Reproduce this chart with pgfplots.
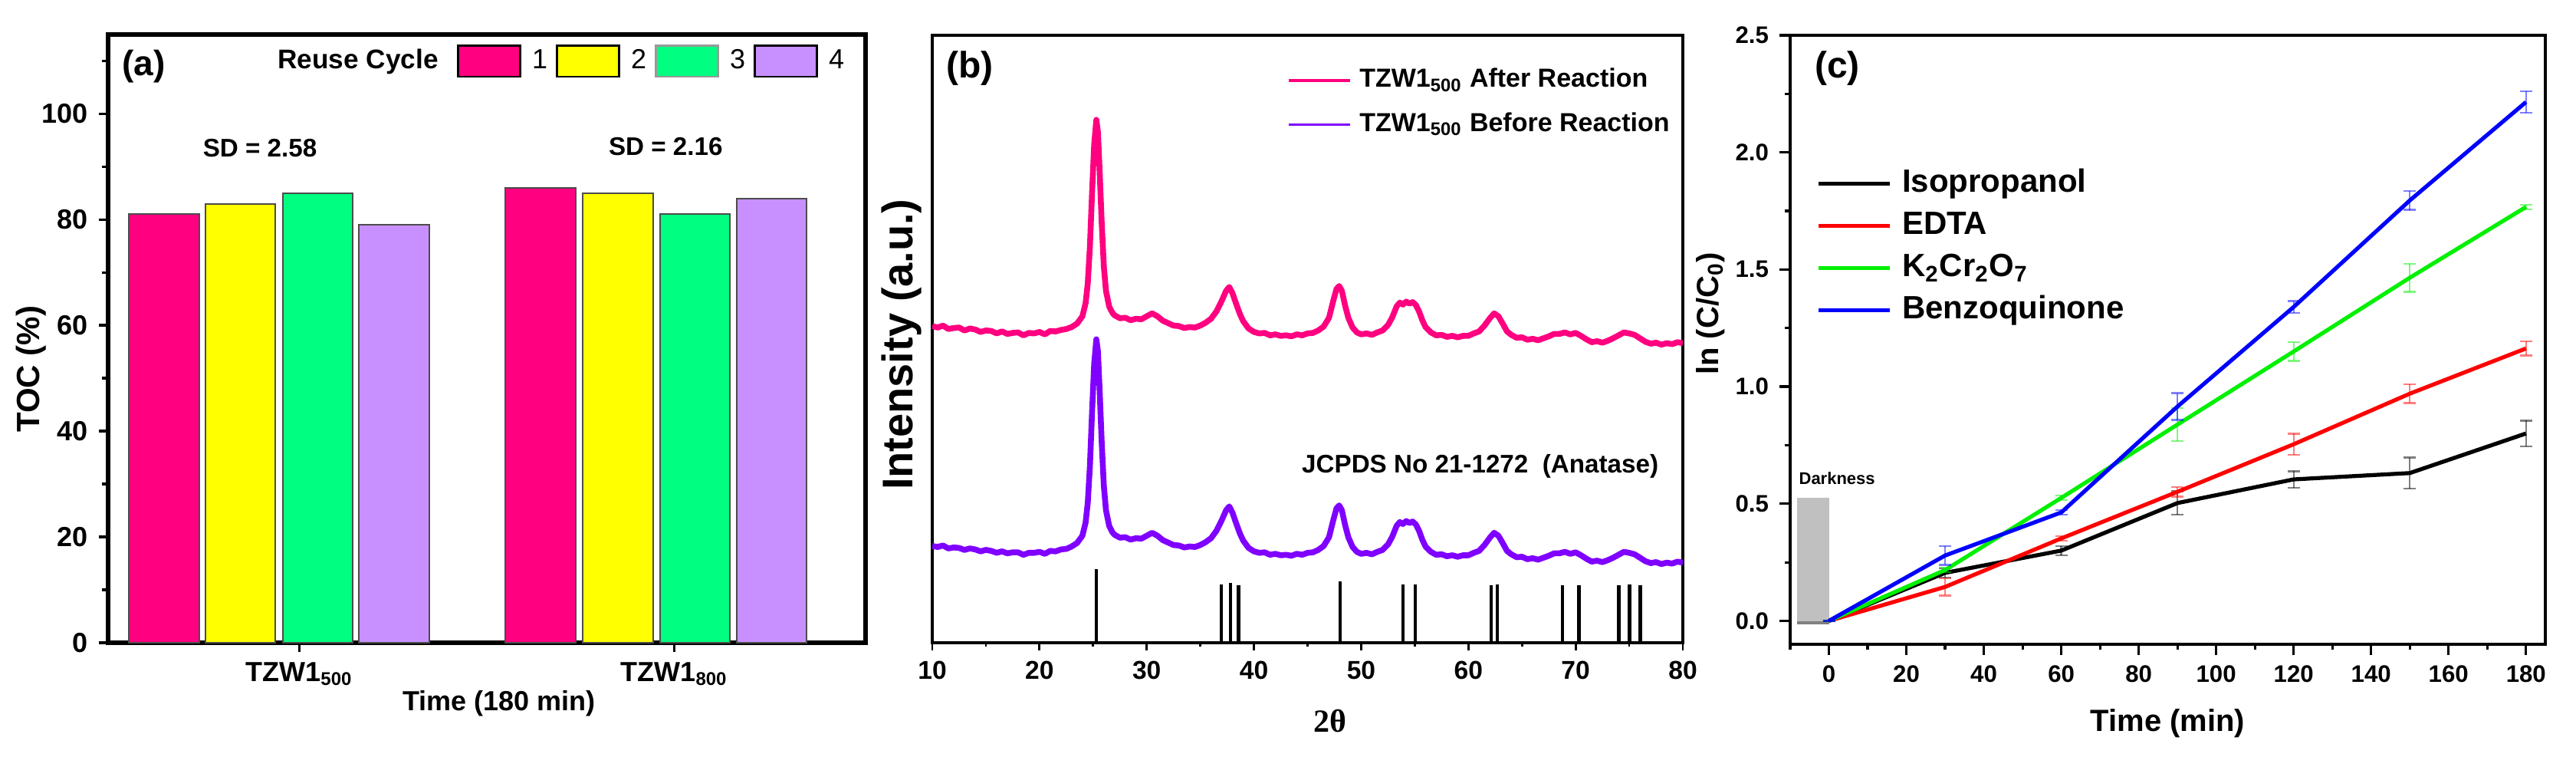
\documentclass[border=0pt]{standalone}
\usepackage{fontspec}
\setmainfont{Liberation Sans}
\newfontfamily\serifb{Liberation Serif}
\usepackage{pgfplots}
\pgfplotsset{compat=1.18}

\definecolor{cyc1}{HTML}{FF0080}
\definecolor{cyc2}{HTML}{FFFF00}
\definecolor{cyc3}{HTML}{00FF80}
\definecolor{cyc4}{HTML}{C890FF}
\definecolor{afterc}{HTML}{FF0080}
\definecolor{beforec}{HTML}{8000FF}
\definecolor{dark}{HTML}{C0C0C0}
\definecolor{lred}{HTML}{FF0000}
\definecolor{lgreen}{HTML}{00F000}
\definecolor{lblue}{HTML}{0000FF}

\newcommand\fs[1]{\fontsize{#1}{#1}\selectfont}

% XRD patterns; y in arbitrary units
\pgfplotstableread{
x y
10.0 64.8
10.5 64.5
11.0 64.9
11.5 64.2
12.0 64.4
12.5 64.5
13.0 63.9
13.5 64.3
14.0 64.1
14.5 63.6
15.0 63.9
15.5 63.8
16.0 63.3
16.5 63.7
17.0 63.2
17.5 63.4
18.0 63.5
18.5 62.9
19.0 63.4
19.5 63.3
20.0 63.6
20.5 63.1
21.0 63.8
21.5 63.7
22.0 64.0
22.5 64.2
23.0 64.6
23.5 65.3
24.0 66.8
24.3 69.5
24.5 73.5
24.7 81.0
24.9 92.0
25.1 102.0
25.3 107.0
25.45 104.5
25.6 97.0
25.8 86.0
26.0 77.0
26.2 72.0
26.5 68.8
26.8 67.5
27.0 67.0
27.5 66.4
28.0 66.5
28.5 66.0
29.0 66.3
29.5 66.2
30.0 66.8
30.5 67.4
31.0 66.8
31.5 65.9
32.0 65.4
32.5 64.9
33.0 64.8
33.5 64.4
34.0 64.6
34.5 64.5
35.0 64.9
35.5 65.5
36.0 66.3
36.5 67.8
37.0 70.0
37.4 72.0
37.7 72.8
38.0 71.5
38.3 69.6
38.7 67.2
39.0 65.8
39.5 64.3
40.0 63.6
40.5 63.3
41.0 63.4
41.5 62.9
42.0 63.1
42.5 62.8
43.0 62.9
43.5 62.7
44.0 63.1
44.5 62.9
45.0 63.3
45.5 63.4
46.0 63.9
46.5 64.7
47.0 66.5
47.4 70.0
47.7 72.4
47.95 73.0
48.2 72.0
48.5 69.0
48.8 66.5
49.2 64.5
49.6 63.5
50.0 63.1
50.5 63.3
51.0 63.0
51.5 63.5
52.0 63.9
52.5 65.0
52.9 66.6
53.3 68.8
53.6 69.6
53.9 69.2
54.2 69.8
54.5 69.4
54.8 69.7
55.1 69.1
55.4 67.8
55.7 66.0
56.0 64.6
56.5 63.5
57.0 62.9
57.5 63.0
58.0 62.6
58.5 62.8
59.0 62.5
59.5 62.8
60.0 62.8
60.5 63.3
61.0 63.7
61.5 64.9
62.0 66.4
62.4 67.4
62.8 66.8
63.2 65.3
63.6 63.7
64.0 63.0
64.5 62.4
65.0 62.5
65.5 62.0
66.0 62.2
66.5 61.9
67.0 62.3
67.5 62.7
68.0 63.2
68.5 63.2
69.0 63.5
69.5 63.1
70.0 63.4
70.5 62.8
71.0 62.1
71.5 61.5
72.0 61.7
72.5 61.4
73.0 61.8
73.5 62.3
74.0 62.9
74.5 63.5
75.0 63.3
75.5 63.0
76.0 62.3
76.5 61.6
77.0 61.2
77.5 61.4
78.0 61.0
78.5 61.3
79.0 61.1
79.5 61.5
80.0 61.3
}\afterdata

\pgfplotstableread{
x y
10.0 19.8
10.5 19.6
11.0 19.9
11.5 19.3
12.0 19.5
12.5 19.4
13.0 19.0
13.5 19.3
14.0 19.1
14.5 18.7
15.0 19.0
15.5 18.8
16.0 18.4
16.5 18.7
17.0 18.3
17.5 18.5
18.0 18.5
18.5 18.0
19.0 18.4
19.5 18.4
20.0 18.6
20.5 18.2
21.0 18.8
21.5 18.7
22.0 19.1
22.5 19.2
23.0 19.7
23.5 20.4
24.0 21.9
24.3 24.6
24.5 28.6
24.7 36.1
24.9 47.1
25.1 57.1
25.3 62.1
25.45 59.6
25.6 52.1
25.8 41.1
26.0 32.1
26.2 27.1
26.5 23.9
26.8 22.6
27.0 22.1
27.5 21.5
28.0 21.6
28.5 21.1
29.0 21.4
29.5 21.3
30.0 21.9
30.5 22.5
31.0 21.9
31.5 21.0
32.0 20.5
32.5 20.0
33.0 19.9
33.5 19.5
34.0 19.7
34.5 19.6
35.0 20.0
35.5 20.6
36.0 21.4
36.5 22.9
37.0 25.1
37.4 27.1
37.7 27.9
38.0 26.6
38.3 24.7
38.7 22.3
39.0 20.9
39.5 19.4
40.0 18.7
40.5 18.4
41.0 18.5
41.5 18.0
42.0 18.2
42.5 17.9
43.0 18.0
43.5 17.8
44.0 18.2
44.5 18.0
45.0 18.4
45.5 18.5
46.0 19.0
46.5 19.8
47.0 21.6
47.4 25.1
47.7 27.5
47.95 28.1
48.2 27.1
48.5 24.1
48.8 21.6
49.2 19.6
49.6 18.6
50.0 18.2
50.5 18.4
51.0 18.1
51.5 18.6
52.0 19.0
52.5 20.1
52.9 21.7
53.3 23.9
53.6 24.7
53.9 24.3
54.2 24.9
54.5 24.5
54.8 24.8
55.1 24.2
55.4 22.9
55.7 21.1
56.0 19.7
56.5 18.6
57.0 18.0
57.5 18.1
58.0 17.7
58.5 17.9
59.0 17.6
59.5 17.9
60.0 17.9
60.5 18.4
61.0 18.8
61.5 20.0
62.0 21.5
62.4 22.5
62.8 21.9
63.2 20.4
63.6 18.8
64.0 18.1
64.5 17.5
65.0 17.6
65.5 17.1
66.0 17.3
66.5 17.0
67.0 17.4
67.5 17.8
68.0 18.3
68.5 18.3
69.0 18.6
69.5 18.2
70.0 18.5
70.5 17.9
71.0 17.2
71.5 16.6
72.0 16.8
72.5 16.5
73.0 16.9
73.5 17.4
74.0 18.0
74.5 18.6
75.0 18.4
75.5 18.1
76.0 17.4
76.5 16.7
77.0 16.3
77.5 16.5
78.0 16.1
78.5 16.4
79.0 16.2
79.5 16.6
80.0 16.4
}\beforedata

\begin{document}
\begin{tikzpicture}
\useasboundingbox (0,0) rectangle (840pt,249.75pt);

% ---------------- (a) TOC bars
\begin{axis}[
  at={(35.25pt,40.25pt)}, anchor=south west, scale only axis,
  width=247pt, height=198.25pt,
  xmin=0.49, xmax=2.51, ymin=0, ymax=115,
  axis line style={line width=1.3pt},
  tick align=outside, tick pos=left,
  major tick length=3pt, minor tick length=2pt,
  every tick/.style={black, line width=0.9pt},
  xtick={1,2}, xticklabels={TZW1\textsubscript{500},TZW1\textsubscript{800}},
  ytick={0,20,...,100}, minor ytick={10,30,...,110},
  tick label style={font=\fs{9}\bfseries},
  /pgf/number format/assume math mode=true,
  xlabel={Time (180 min)}, ylabel={TOC (\%)},
  xlabel style={font=\fs{9}\bfseries, at={(axis description cs:0.516,-0.1)}, anchor=center},
  ylabel style={font=\fs{10.5}\bfseries, at={(axis description cs:-0.102,0.45)}, anchor=center},
  legend columns=4,
  legend image code/.code={\draw[#1] (0pt,-5.1pt) rectangle (20.25pt,5.1pt);},
  legend style={draw=none, fill=none, inner sep=0pt,
    at={(rel axis cs:0.46,0.956)}, anchor=west, font=\fs{9},
    nodes={inner sep=0pt},
    /tikz/every odd column/.append style={column sep=3.6pt},
    /tikz/every even column/.append style={column sep=2.8pt}},
]
\addplot[ybar, bar width=0.187, bar shift=0pt, fill=cyc1, draw=black!70, line width=0.5pt, forget plot]
  coordinates {(0.639,81) (1.643,86)};
\addplot[ybar, bar width=0.187, bar shift=0pt, fill=cyc2, draw=black!70, line width=0.5pt, forget plot]
  coordinates {(0.843,83) (1.850,85)};
\addplot[ybar, bar width=0.187, bar shift=0pt, fill=cyc3, draw=black!70, line width=0.5pt, forget plot]
  coordinates {(1.049,85) (2.055,81)};
\addplot[ybar, bar width=0.187, bar shift=0pt, fill=cyc4, draw=black!70, line width=0.5pt, forget plot]
  coordinates {(1.253,79) (2.259,84)};
\addlegendimage{fill=cyc1, draw=black, line width=0.6pt}\addlegendentry{1}
\addlegendimage{fill=cyc2, draw=black, line width=0.6pt}\addlegendentry{2}
\addlegendimage{fill=cyc3, draw=black!40, line width=0.6pt}\addlegendentry{3}
\addlegendimage{fill=cyc4, draw=black, line width=0.6pt}\addlegendentry{4}
\node[font=\fs{11.5}\bfseries] at (rel axis cs:0.047,0.948) {(a)};
\node[font=\fs{8.8}\bfseries] at (rel axis cs:0.33,0.955) {Reuse Cycle};
\node[font=\fs{8.3}\bfseries] at (axis cs:0.895,93.5) {SD = 2.58};
\node[font=\fs{8.3}\bfseries] at (axis cs:1.977,93.8) {SD = 2.16};
\end{axis}

% ---------------- (b) XRD
\begin{axis}[
  at={(304pt,40.25pt)}, anchor=south west, scale only axis,
  width=244.75pt, height=198pt,
  xmin=10, xmax=80, ymin=0, ymax=124.3,
  axis line style={line width=0.8pt},
  tick align=outside, tick pos=left,
  major tick length=2.4pt, minor tick length=1.3pt,
  every tick/.style={black, line width=0.7pt},
  xtick={10,20,...,80}, minor x tick num=1, ytick=\empty,
  tick label style={font=\fs{8.4}\bfseries},
  /pgf/number format/assume math mode=true,
  xlabel={\serifb 2θ}, ylabel={Intensity (a.u.)},
  xlabel style={font=\fs{10.5}\bfseries, at={(axis description cs:0.530,-0.129)}, anchor=center},
  ylabel style={font=\fs{14}\bfseries, at={(axis description cs:-0.041,0.491)}, anchor=center},
  legend image code/.code={\draw[#1, line width=0.8pt] (0pt,0pt) -- (20pt,0pt);},
  legend style={draw=none, fill=none, inner sep=0pt,
    at={(rel axis cs:0.472,0.8895)}, anchor=west, font=\fs{8.5}\bfseries,
    nodes={inner sep=0pt, text height=6.5pt, text depth=2pt},
    row sep=5.8pt,
    /tikz/every odd column/.append style={column sep=2.8pt}},
  legend cell align=left,
]
\addplot[afterc, line width=1.9pt, line join=round] table[x=x, y=y] {\afterdata};
\addlegendentry{TZW1\textsubscript{500} After Reaction}
\addplot[beforec, line width=1.9pt, line join=round] table[x=x, y=y] {\beforedata};
\addlegendentry{TZW1\textsubscript{500} Before Reaction}
\addplot[ycomb, black, line width=1.1pt, forget plot] coordinates {
  (25.28,15.0) (36.95,12.0) (37.80,12.3) (38.57,11.8) (48.05,12.5)
  (53.89,12.0) (55.06,12.0) (62.12,11.7) (62.69,12.0) (68.76,11.7)
  (70.31,11.7) (74.03,11.7) (75.03,12.0) (76.02,11.7)};
\node[font=\fs{12}\bfseries] at (rel axis cs:0.050,0.946) {(b)};
\node[font=\fs{8.3}\bfseries] at (rel axis cs:0.730,0.290) {JCPDS No 21-1272~~(Anatase)};
\end{axis}

% ---------------- (c) kinetics
\begin{axis}[
  at={(583.75pt,39.75pt)}, anchor=south west, scale only axis,
  width=246.25pt, height=198.5pt,
  xmin=-10, xmax=185, ymin=-0.1, ymax=2.5,
  axis line style={line width=1.05pt},
  tick align=outside, tick pos=left,
  major tick length=3.5pt, minor tick length=1.8pt,
  every tick/.style={black, line width=0.8pt},
  xtick={0,20,...,180}, minor xtick={-10,10,...,170},
  ytick={0,0.5,...,2.5}, minor ytick={0.25,0.75,...,2.25},
  yticklabel style={/pgf/number format/.cd, fixed, fixed zerofill, precision=1},
  tick label style={font=\fs{7.8}\bfseries},
  /pgf/number format/assume math mode=true,
  xlabel={Time (min)}, ylabel={ln (C/C\textsubscript{0})},
  xlabel style={font=\fs{10}\bfseries, at={(axis description cs:0.50,-0.13)}, anchor=center},
  ylabel style={font=\fs{10}\bfseries, at={(axis description cs:-0.105,0.543)}, anchor=center},
  legend image code/.code={\draw[#1] (0pt,0pt) -- (23.25pt,0pt);},
  legend style={draw=none, fill=none, inner sep=0pt,
    at={(rel axis cs:0.0345,0.652)}, anchor=west, font=\fs{10.5}\bfseries,
    nodes={inner sep=0pt, text height=8pt, text depth=2.5pt},
    row sep=3.25pt,
    /tikz/every odd column/.append style={column sep=3.25pt}},
  legend cell align=left,
  errs/.style={error bars/.cd, y dir=both, y explicit,
    error bar style={line width=0.6pt, opacity=0.5},
    error mark options={rotate=90, mark size=2pt, line width=0.6pt, opacity=0.5}},
]
\addplot[fill=dark, draw=none, forget plot] coordinates {(-8.2,-0.008) (-8.2,0.526) (0,0.526) (0,-0.008)} -- cycle;
\addplot[gray, line width=0.8pt, forget plot] coordinates {(-8.2,-0.008) (0,-0.008)};
\addplot[black, line width=1.3pt, errs] coordinates {
  (0,0) +- (0,0) (30,0.205) +- (0,0.02) (60,0.300) +- (0,0.02) (90,0.503) +- (0,0.05)
  (120,0.604) +- (0,0.035) (150,0.631) +- (0,0.066) (180,0.800) +- (0,0.055)};
\addlegendentry{Isopropanol}
\addplot[lred, line width=1.3pt, errs] coordinates {
  (0,0) +- (0,0) (30,0.145) +- (0,0.037) (60,0.352) +- (0,0.01) (90,0.551) +- (0,0.02)
  (120,0.754) +- (0,0.045) (150,0.970) +- (0,0.04) (180,1.163) +- (0,0.03)};
\addlegendentry{EDTA}
\addplot[lgreen, line width=1.3pt, errs] coordinates {
  (0,0) +- (0,0) (30,0.217) +- (0,0.01) (60,0.525) +- (0,0.01) (90,0.838) +- (0,0.07)
  (120,1.150) +- (0,0.04) (150,1.465) +- (0,0.06) (180,1.767) +- (0,0.01)};
\addlegendentry{K\textsubscript{2}Cr\textsubscript{2}O\textsubscript{7}}
\addplot[lblue, line width=1.3pt, errs] coordinates {
  (0,0) +- (0,0) (30,0.279) +- (0,0.04) (60,0.463) +- (0,0.01) (90,0.915) +- (0,0.057)
  (120,1.340) +- (0,0.025) (150,1.795) +- (0,0.04) (180,2.215) +- (0,0.046)};
\addlegendentry{Benzoquinone}
\node[font=\fs{12}\bfseries] at (rel axis cs:0.0624,0.946) {(c)};
\node[font=\fs{5.5}\bfseries] at (axis cs:2.1,0.609) {Darkness};
\end{axis}
\end{tikzpicture}
\end{document}
